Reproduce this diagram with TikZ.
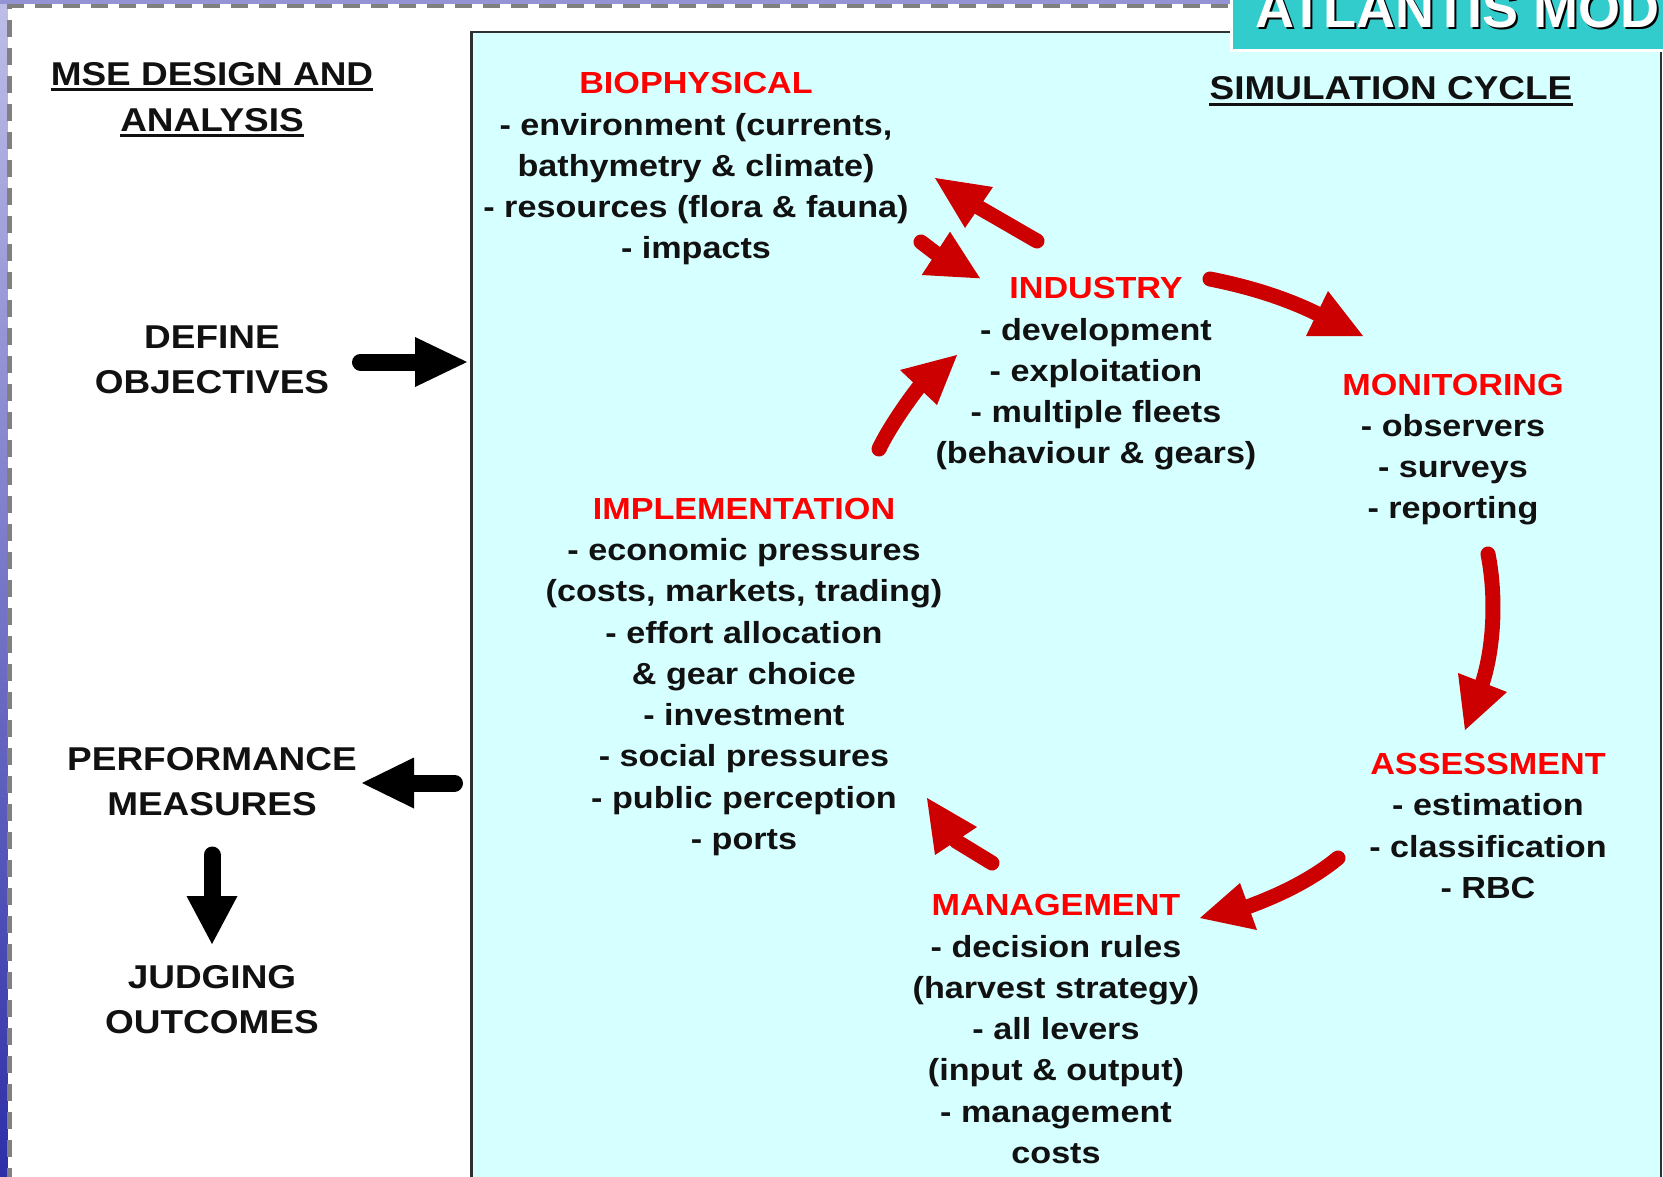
\documentclass[tikz,border=0pt]{standalone}
\usepackage{fontspec}
\setmainfont{Liberation Sans}[FakeStretch=1.12]
\newfontfamily\titlefont{Liberation Sans}
\definecolor{cyanbg}{RGB}{214,255,255}
\definecolor{titleteal}{RGB}{51,204,204}
\definecolor{hred}{RGB}{255,0,0}
\definecolor{ared}{RGB}{204,0,0}
\definecolor{txt}{RGB}{17,17,17}
\definecolor{dashgray}{RGB}{128,128,128}
\definecolor{topstrip}{RGB}{148,148,212}
\definecolor{lefttop}{RGB}{190,190,232}
\definecolor{leftbot}{RGB}{46,46,168}
\definecolor{boxedge}{RGB}{48,48,48}
\tikzset{
  blk/.style={font=\bfseries\fontsize{30.5}{41.25}\selectfont, align=center, text=txt, inner sep=0pt},
  lh/.style={font=\bfseries\fontsize{33}{44}\selectfont, text=txt, inner sep=0pt, anchor=base},
  ul/.style={draw=txt, line width=3pt},
  rshaft/.style={draw=ared, line width=15pt, line cap=round},
  rhead/.style={fill=ared},
  bshaft/.style={draw=black, line width=17pt, line cap=round},
  bhead/.style={fill=black},
}
\begin{document}
\begin{tikzpicture}[x=1pt,y=-1pt]
\useasboundingbox (0,0) rectangle (1663,1177);
\clip (0,0) rectangle (1663,1177);
% background
\fill[white] (0,0) rectangle (1663,1177);
\shade[top color=lefttop, bottom color=leftbot] (0,0) rectangle (7.5,1177);
\fill[topstrip] (0,0) rectangle (1663,4.5);
\draw[dashgray, line width=4.5pt, dash pattern=on 17pt off 11pt] (9.5,1185) -- (9.5,6) -- (1670,6);
% simulation box
\draw[fill=cyanbg, draw=boxedge, line width=2.5pt] (471.5,32) rectangle (1661,1200);
% title tab
\draw[fill=titleteal, draw=white, line width=3pt] (1231,-10) rectangle (1680,51);
\node[anchor=base west, inner sep=0pt, font=\titlefont\bfseries\fontsize{54}{60}\selectfont, text=black] (titleshadow) at (1257,30) {ATLANTIS MOD};
\node[anchor=base west, inner sep=0pt, font=\titlefont\bfseries\fontsize{54}{60}\selectfont, text=white] (title) at (1255,28) {ATLANTIS MOD};
% left column headings
\node[lh] (msea) at (212,86) {MSE DESIGN AND};
\node[lh] (mseb) at (212,132) {ANALYSIS};
\draw[ul] ([yshift=-4pt]msea.base west) -- ([yshift=-4pt]msea.base east);
\draw[ul] ([yshift=-4pt]mseb.base west) -- ([yshift=-4pt]mseb.base east);
\node[lh] (defa) at (212,348) {DEFINE};
\node[lh] (defb) at (212,393) {OBJECTIVES};
\node[lh] (perfa) at (212,770) {PERFORMANCE};
\node[lh] (perfb) at (212,815) {MEASURES};
\node[lh] (juda) at (212,988) {JUDGING};
\node[lh] (judb) at (212,1033) {OUTCOMES};
\node[lh] (simc) at (1391,100) {SIMULATION CYCLE};
\draw[ul] ([yshift=-5pt]simc.base west) -- ([yshift=-5pt]simc.base east);
% cycle blocks
\node[blk] (bio) at (696,169) {{\color{hred}BIOPHYSICAL}\\- environment (currents,\\bathymetry \& climate)\\- resources (flora \& fauna)\\- impacts};
\node[blk] (ind) at (1096,374) {{\color{hred}INDUSTRY}\\- development\\- exploitation\\- multiple fleets\\(behaviour \& gears)};
\node[blk] (mon) at (1453,449.5) {{\color{hred}MONITORING}\\- observers\\- surveys\\- reporting};
\node[blk] (ass) at (1488,826) {{\color{hred}ASSESSMENT}\\- estimation\\- classification\\- RBC};
\node[blk] (man) at (1056,1029) {{\color{hred}MANAGEMENT}\\- decision rules\\(harvest strategy)\\- all levers\\(input \& output)\\- management\\costs};
\node[blk] (imp) at (744,677) {{\color{hred}IMPLEMENTATION}\\- economic pressures\\(costs, markets, trading)\\- effort allocation\\\& gear choice\\- investment\\- social pressures\\- public perception\\- ports};
% black arrows
\coordinate (b1t) at (360.5,362); \coordinate (b1b) at (416,362); \coordinate (b1p) at (467,362);
\coordinate (b1c) at (415,337); \coordinate (b1d) at (415,387);
\draw[bshaft] (b1t) -- (b1b); \fill[bhead] (b1p) -- (b1c) -- (b1d) -- cycle;
\coordinate (b2t) at (454.5,783); \coordinate (b2b) at (414,783); \coordinate (b2p) at (362,783);
\coordinate (b2c) at (414,757.5); \coordinate (b2d) at (414,808.5);
\draw[bshaft] (b2t) -- (b2b); \fill[bhead] (b2p) -- (b2c) -- (b2d) -- cycle;
\coordinate (b3t) at (212,855); \coordinate (b3b) at (212,897); \coordinate (b3p) at (212,944);
\coordinate (b3c) at (186.5,896); \coordinate (b3d) at (237.5,896);
\draw[bshaft] (b3t) -- (b3b); \fill[bhead] (b3p) -- (b3c) -- (b3d) -- cycle;
% red arrows
\coordinate (r1t) at (1037,241); \coordinate (r1b) at (979,207.5); \coordinate (r1p) at (935,178);
\coordinate (r1c) at (993,187); \coordinate (r1d) at (965,228);
\draw[rshaft] (r1t) -- (r1b); \fill[rhead] (r1p) -- (r1c) -- (r1d) -- cycle;
\coordinate (r2t) at (921,242); \coordinate (r2b) at (936,253.5); \coordinate (r2p) at (980,278.3);
\coordinate (r2c) at (950,231.7); \coordinate (r2d) at (921.7,275);
\draw[rshaft] (r2t) -- (r2b); \fill[rhead] (r2p) -- (r2c) -- (r2d) -- cycle;
\coordinate (r3t) at (1210,279); \coordinate (r3b) at (1317,313.6); \coordinate (r3p) at (1363,336);
\coordinate (r3c) at (1306,336); \coordinate (r3d) at (1328,291);
\draw[rshaft] (r3t) .. controls (1250,287) and (1285,298) .. (r3b); \fill[rhead] (r3p) -- (r3c) -- (r3d) -- cycle;
\coordinate (r4t) at (1488,554); \coordinate (r4b) at (1482.5,682.5); \coordinate (r4p) at (1465,730);
\coordinate (r4c) at (1458,673); \coordinate (r4d) at (1507,692);
\draw[rshaft] (r4t) .. controls (1497,600) and (1493,650) .. (r4b); \fill[rhead] (r4p) -- (r4c) -- (r4d) -- cycle;
\coordinate (r5t) at (1338,858); \coordinate (r5b) at (1248.5,906.5); \coordinate (r5p) at (1200,918);
\coordinate (r5c) at (1240,883); \coordinate (r5d) at (1257,930);
\draw[rshaft] (r5t) .. controls (1315,877) and (1285,893) .. (r5b); \fill[rhead] (r5p) -- (r5c) -- (r5d) -- cycle;
\coordinate (r6t) at (992,863); \coordinate (r6b) at (956,841); \coordinate (r6p) at (927,798);
\coordinate (r6c) at (977,827); \coordinate (r6d) at (935,855);
\draw[rshaft] (r6t) -- (r6b); \fill[rhead] (r6p) -- (r6c) -- (r6d) -- cycle;
\coordinate (r7t) at (879,449); \coordinate (r7b) at (918.5,387.5); \coordinate (r7p) at (957,355);
\coordinate (r7c) at (900,370); \coordinate (r7d) at (937,405);
\draw[rshaft] (r7t) .. controls (888,430) and (905,405) .. (r7b); \fill[rhead] (r7p) -- (r7c) -- (r7d) -- cycle;
\end{tikzpicture}
\end{document}
